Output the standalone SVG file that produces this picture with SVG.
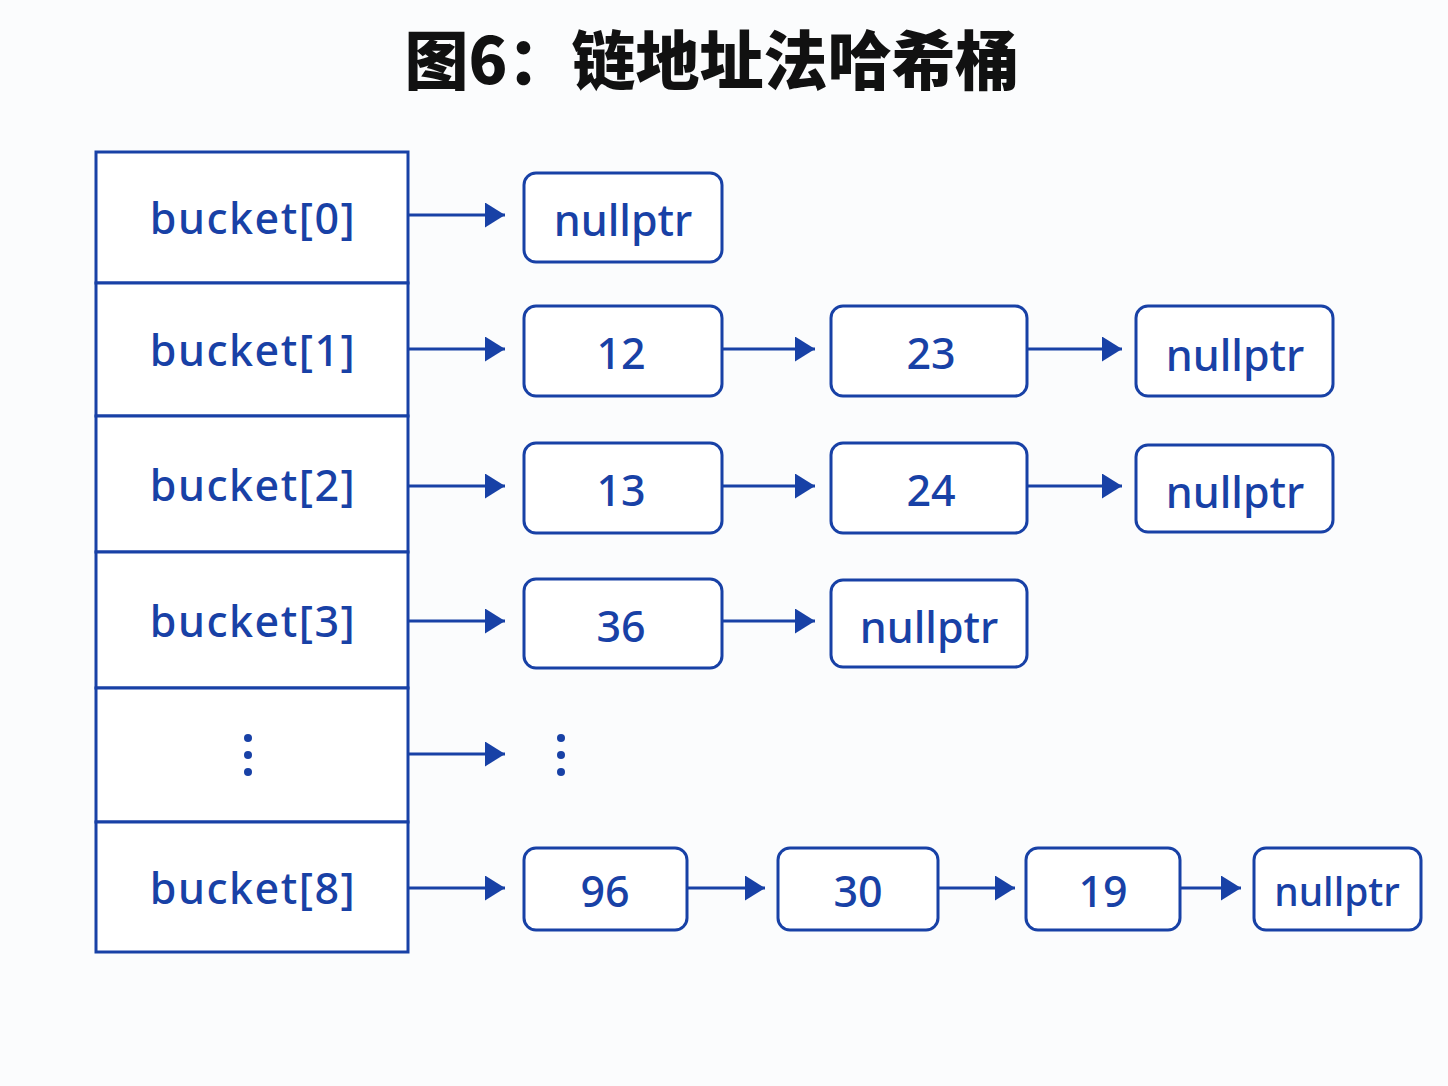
<svg xmlns="http://www.w3.org/2000/svg" width="1448" height="1086" viewBox="0 0 1448 1086">
<defs>
<marker id="ah" viewBox="0 0 10 10" refX="10" refY="5" markerWidth="20" markerHeight="25" markerUnits="userSpaceOnUse" orient="auto" preserveAspectRatio="none">
<path d="M0,0 L10,5 L0,10 Z" fill="#1841a6"/>
</marker>
</defs>
<style>
.bk{fill:#ffffff;stroke:#1841a6;stroke-width:3}
.nd{fill:#ffffff;stroke:#1841a6;stroke-width:3}
.t{font-family:"Noto Sans","Open Sans",sans-serif;font-size:43px;fill:#1841a6;text-anchor:middle;dominant-baseline:central;font-weight:500}
.bt{letter-spacing:1.5px}
.ed{stroke:#1841a6;stroke-width:3;fill:none}
.dot{fill:#1841a6}
.title{font-family:"Noto Sans CJK SC","Noto Sans",sans-serif;font-size:64px;font-weight:900;fill:#111111;text-anchor:middle}
</style>
<rect width="1448" height="1086" fill="#fbfcfd"/>
<text class="title" x="712" y="84">图6：链地址法哈希桶</text>

<g id="buckets">
<g id="b0"><rect class="bk" x="96" y="152" width="312" height="131"/><text class="t bt" x="253" y="217">bucket[0]</text></g>
<g id="b1"><rect class="bk" x="96" y="283" width="312" height="133"/><text class="t bt" x="253" y="349">bucket[1]</text></g>
<g id="b2"><rect class="bk" x="96" y="416" width="312" height="136"/><text class="t bt" x="253" y="484">bucket[2]</text></g>
<g id="b3"><rect class="bk" x="96" y="552" width="312" height="136"/><text class="t bt" x="253" y="620">bucket[3]</text></g>
<g id="bdots"><rect class="bk" x="96" y="688" width="312" height="134"/><circle class="dot" cx="248" cy="738" r="4"/><circle class="dot" cx="248" cy="755" r="4"/><circle class="dot" cx="248" cy="772" r="4"/></g>
<g id="b8"><rect class="bk" x="96" y="822" width="312" height="130"/><text class="t bt" x="253" y="887">bucket[8]</text></g>
</g>

<g id="n0a"><rect class="nd" x="524" y="173" width="198" height="89" rx="12"/><text class="t" x="623" y="219">nullptr</text></g>
<g id="n1a"><rect class="nd" x="524" y="306" width="198" height="90" rx="12"/><text class="t" x="621" y="352">12</text></g>
<g id="n1b"><rect class="nd" x="831" y="306" width="196" height="90" rx="12"/><text class="t" x="931" y="352">23</text></g>
<g id="n1c"><rect class="nd" x="1136" y="306" width="197" height="90" rx="12"/><text class="t" x="1235" y="354">nullptr</text></g>
<g id="n2a"><rect class="nd" x="524" y="443" width="198" height="90" rx="12"/><text class="t" x="621" y="489">13</text></g>
<g id="n2b"><rect class="nd" x="831" y="443" width="196" height="90" rx="12"/><text class="t" x="931" y="489">24</text></g>
<g id="n2c"><rect class="nd" x="1136" y="445" width="197" height="87" rx="12"/><text class="t" x="1235" y="491">nullptr</text></g>
<g id="n3a"><rect class="nd" x="524" y="579" width="198" height="89" rx="12"/><text class="t" x="621" y="625">36</text></g>
<g id="n3b"><rect class="nd" x="831" y="580" width="196" height="87" rx="12"/><text class="t" x="929" y="626">nullptr</text></g>
<g id="ndots"><circle class="dot" cx="561" cy="738" r="4"/><circle class="dot" cx="561" cy="755" r="4"/><circle class="dot" cx="561" cy="772" r="4"/></g>
<g id="n8a"><rect class="nd" x="524" y="848" width="163" height="82" rx="12"/><text class="t" x="605" y="890">96</text></g>
<g id="n8b"><rect class="nd" x="778" y="848" width="160" height="82" rx="12"/><text class="t" x="858" y="890">30</text></g>
<g id="n8c"><rect class="nd" x="1026" y="848" width="154" height="82" rx="12"/><text class="t" x="1103" y="890">19</text></g>
<g id="n8d"><rect class="nd" x="1254" y="848" width="167" height="82" rx="12"/><text class="t" x="1337" y="890" style="font-size:39px">nullptr</text></g>

<g id="edges">
<line class="ed" x1="408" y1="215" x2="505" y2="215" marker-end="url(#ah)"/>
<line class="ed" x1="408" y1="349" x2="505" y2="349" marker-end="url(#ah)"/>
<line class="ed" x1="722" y1="349" x2="815" y2="349" marker-end="url(#ah)"/>
<line class="ed" x1="1027" y1="349" x2="1122" y2="349" marker-end="url(#ah)"/>
<line class="ed" x1="408" y1="486" x2="505" y2="486" marker-end="url(#ah)"/>
<line class="ed" x1="722" y1="486" x2="815" y2="486" marker-end="url(#ah)"/>
<line class="ed" x1="1027" y1="486" x2="1122" y2="486" marker-end="url(#ah)"/>
<line class="ed" x1="408" y1="621" x2="505" y2="621" marker-end="url(#ah)"/>
<line class="ed" x1="722" y1="621" x2="815" y2="621" marker-end="url(#ah)"/>
<line class="ed" x1="408" y1="754" x2="505" y2="754" marker-end="url(#ah)"/>
<line class="ed" x1="408" y1="888" x2="505" y2="888" marker-end="url(#ah)"/>
<line class="ed" x1="687" y1="888" x2="765" y2="888" marker-end="url(#ah)"/>
<line class="ed" x1="938" y1="888" x2="1015" y2="888" marker-end="url(#ah)"/>
<line class="ed" x1="1180" y1="888" x2="1241" y2="888" marker-end="url(#ah)"/>
</g>
</svg>
